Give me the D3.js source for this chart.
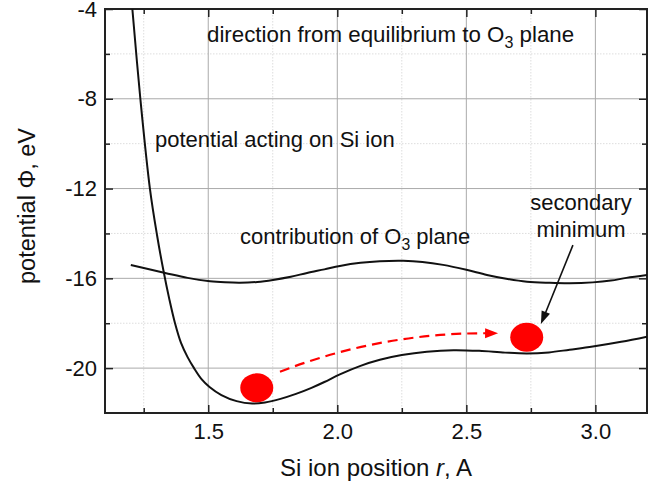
<!DOCTYPE html>
<html>
<head>
<meta charset="utf-8">
<script src="https://cdn.jsdelivr.net/npm/d3@7"></script>
<style>
  body { margin: 0; background: #fff; }
  text { font-family: "Liberation Sans", Arial, sans-serif; fill: #111; }
</style>
</head>
<body>
<svg id="chart" width="662" height="484"></svg>
<script>
// Axis ticks
const xTicks = [1.5, 2.0, 2.5, 3.0];
const xMinor = [1.25, 1.75, 2.25, 2.75];
const yTicks = [-4, -8, -12, -16, -20];
const yMinor = [-6, -10, -14, -18];

// Potential acting on the Si ion, eV, vs. position r, A
const potR = [1.206, 1.237, 1.274, 1.3015, 1.326, 1.350, 1.371, 1.3945, 1.42, 1.445, 1.474, 1.505, 1.551, 1.61, 1.67, 1.72, 1.78, 1.84, 1.9, 1.95, 2.01, 2.09, 2.165, 2.25, 2.347, 2.45, 2.55, 2.65, 2.735, 2.82, 2.9, 2.99, 3.1, 3.2];
const potV = [-4.0, -8.0, -12.0, -14.07, -15.63, -16.97, -17.99, -18.88, -19.51, -20.0, -20.49, -20.84, -21.2, -21.47, -21.58, -21.53, -21.37, -21.15, -20.88, -20.62, -20.28, -19.9, -19.63, -19.42, -19.27, -19.2, -19.23, -19.31, -19.35, -19.3, -19.18, -19.04, -18.83, -18.6];

// Contribution of the O3 plane
const planeR = [1.2, 1.333, 1.42, 1.507, 1.565, 1.623, 1.69, 1.751, 1.82, 1.883, 1.95, 2.01, 2.09, 2.165, 2.255, 2.33, 2.41, 2.5, 2.58, 2.66, 2.735, 2.82, 2.9, 2.99, 3.06, 3.12, 3.2];
const planeV = [-15.41, -15.76, -15.98, -16.13, -16.18, -16.2, -16.16, -16.07, -15.93, -15.76, -15.6, -15.45, -15.31, -15.24, -15.22, -15.27, -15.4, -15.62, -15.85, -16.03, -16.15, -16.2, -16.22, -16.18, -16.1, -15.98, -15.85];

// Ion positions (equilibrium and secondary minimum)
const ionR = [1.688, 2.734];
const ionV = [-20.88, -18.63];

// Hop path: start, bend, end
const hopR = [1.778, 2.169, 2.623];
const hopV = [-20.16, -18.42, -18.45];

// Pointer to the secondary minimum: tail, tip
const pointerR = [2.913, 2.789];
const pointerV = [-14.52, -18.04];

const svg = d3.select("#chart");
const pL = 105, pR = 647, pT = 9, pB = 413;

const x = d3.scaleLinear().domain([1.1, 3.2]).range([pL, pR]);
const y = d3.scaleLinear().domain([-22, -4]).range([pB, pT]);

// Grid
const grid = svg.append("g");
xMinor.forEach(v => grid.append("line")
  .attr("x1", x(v)).attr("x2", x(v)).attr("y1", pT).attr("y2", pB)
  .attr("stroke", "#ddd").attr("stroke-width", 1).attr("stroke-dasharray", "1.5,1.5"));
yMinor.forEach(v => grid.append("line")
  .attr("x1", pL).attr("x2", pR).attr("y1", y(v)).attr("y2", y(v))
  .attr("stroke", "#ddd").attr("stroke-width", 1).attr("stroke-dasharray", "1.5,1.5"));
xTicks.forEach(v => grid.append("line")
  .attr("x1", x(v)).attr("x2", x(v)).attr("y1", pT).attr("y2", pB)
  .attr("stroke", "#aaa").attr("stroke-width", 1));
yTicks.filter(v => v > -22 && v < -4).forEach(v => grid.append("line")
  .attr("x1", pL).attr("x2", pR).attr("y1", y(v)).attr("y2", y(v))
  .attr("stroke", "#aaa").attr("stroke-width", 1));

// Axes with inward ticks
function styleAxis(g) {
  g.select(".domain").remove();
  g.selectAll(".tick line").attr("stroke", "#222").attr("stroke-width", 1.5);
  g.selectAll(".tick text").attr("font-size", 22).attr("fill", "#111")
    .attr("font-family", "Liberation Sans, Arial, sans-serif");
}
const fmtX = d3.format(".1f");
const fmtY = d => String(d);
svg.append("g").attr("transform", `translate(0,${pB})`)
  .call(d3.axisBottom(x).tickValues(xTicks).tickFormat(fmtX).tickSizeInner(-8).tickSizeOuter(0).tickPadding(10))
  .call(styleAxis);
svg.append("g").attr("transform", `translate(0,${pB})`)
  .call(d3.axisBottom(x).tickValues(xMinor).tickFormat("").tickSizeInner(-5).tickSizeOuter(0))
  .call(styleAxis);
svg.append("g").attr("transform", `translate(0,${pT})`)
  .call(d3.axisTop(x).tickValues(xTicks).tickFormat("").tickSizeInner(-8).tickSizeOuter(0))
  .call(styleAxis);
svg.append("g").attr("transform", `translate(0,${pT})`)
  .call(d3.axisTop(x).tickValues(xMinor).tickFormat("").tickSizeInner(-5).tickSizeOuter(0))
  .call(styleAxis);
svg.append("g").attr("transform", `translate(${pL},0)`)
  .call(d3.axisLeft(y).tickValues(yTicks).tickFormat(fmtY).tickSizeInner(-8).tickSizeOuter(0).tickPadding(8))
  .call(styleAxis);
svg.append("g").attr("transform", `translate(${pL},0)`)
  .call(d3.axisLeft(y).tickValues(yMinor).tickFormat("").tickSizeInner(-5).tickSizeOuter(0))
  .call(styleAxis);
svg.append("g").attr("transform", `translate(${pR},0)`)
  .call(d3.axisRight(y).tickValues(yTicks).tickFormat("").tickSizeInner(-8).tickSizeOuter(0))
  .call(styleAxis);
svg.append("g").attr("transform", `translate(${pR},0)`)
  .call(d3.axisRight(y).tickValues(yMinor).tickFormat("").tickSizeInner(-5).tickSizeOuter(0))
  .call(styleAxis);

// Frame
svg.append("rect").attr("x", pL).attr("y", pT)
  .attr("width", pR - pL).attr("height", pB - pT)
  .attr("fill", "none").attr("stroke", "#222").attr("stroke-width", 2);

// Curves
svg.append("clipPath").attr("id", "plotclip")
  .append("rect").attr("x", pL).attr("y", pT).attr("width", pR - pL).attr("height", pB - pT);
const line = d3.line().x(d => x(d[0])).y(d => y(d[1])).curve(d3.curveCatmullRom.alpha(0.5));
const curves = svg.append("g").attr("clip-path", "url(#plotclip)");
curves.append("path").datum(potR.map((r, i) => [r, potV[i]]))
  .attr("d", line).attr("fill", "none").attr("stroke", "#111").attr("stroke-width", 2);
curves.append("path").datum(planeR.map((r, i) => [r, planeV[i]]))
  .attr("d", line).attr("fill", "none").attr("stroke", "#111").attr("stroke-width", 2);

// Ions
svg.selectAll("ellipse.ion").data(ionR.map((r, i) => [r, ionV[i]])).enter()
  .append("ellipse").attr("class", "ion")
  .attr("cx", d => x(d[0])).attr("cy", d => y(d[1]))
  .attr("rx", 16.5).attr("ry", 14.5).attr("fill", "#f00");

// Dashed hop path with arrowhead
const p0 = [x(hopR[0]), y(hopV[0])], pc = [x(hopR[1]), y(hopV[1])], p2 = [x(hopR[2]), y(hopV[2])];
const ang = Math.atan2(p2[1] - pc[1], p2[0] - pc[0]);
const headLen = 13, headW = 5;
const shaftEnd = [p2[0] - Math.cos(ang) * headLen * 0.8, p2[1] - Math.sin(ang) * headLen * 0.8];
const hop = d3.path();
hop.moveTo(p0[0], p0[1]);
hop.quadraticCurveTo(pc[0], pc[1], shaftEnd[0], shaftEnd[1]);
svg.append("path").attr("d", hop.toString()).attr("fill", "none")
  .attr("stroke", "#f00").attr("stroke-width", 2.2).attr("stroke-dasharray", "10,6");
function head(tip, a, len, w, color) {
  const bx = tip[0] - Math.cos(a) * len, by = tip[1] - Math.sin(a) * len;
  const nx = -Math.sin(a) * w, ny = Math.cos(a) * w;
  svg.append("polygon")
    .attr("points", `${tip[0]},${tip[1]} ${bx + nx},${by + ny} ${bx - nx},${by - ny}`)
    .attr("fill", color);
}
head(p2, ang, headLen, headW, "#f00");

// Pointer arrow
const t0 = [x(pointerR[0]), y(pointerV[0])], t1 = [x(pointerR[1]), y(pointerV[1])];
const pa = Math.atan2(t1[1] - t0[1], t1[0] - t0[0]);
svg.append("line").attr("x1", t0[0]).attr("y1", t0[1])
  .attr("x2", t1[0] - Math.cos(pa) * 8).attr("y2", t1[1] - Math.sin(pa) * 8)
  .attr("stroke", "#111").attr("stroke-width", 1.6);
head(t1, pa, 13, 4.5, "#111");

// Annotations (subscripts drop below the baseline and return)
function label(tx, ty, parts, size) {
  const t = svg.append("text").attr("x", tx).attr("y", ty).attr("font-size", size);
  let shift = 0;
  parts.forEach(p => {
    const s = t.append("tspan").text(p.text);
    if (p.sub) {
      s.attr("font-size", size * 0.72).attr("dy", 6 - shift);
      shift = 6;
    } else {
      s.attr("dy", -shift);
      shift = 0;
    }
  });
  return t;
}
label(207, 42, [{text: "direction from equilibrium to O"}, {text: "3", sub: true}, {text: " plane"}], 22.3);
label(155, 147, [{text: "potential acting on Si ion"}], 22);
label(240, 244, [{text: "contribution of O"}, {text: "3", sub: true}, {text: " plane"}], 22);
svg.append("text").attr("x", 581).attr("y", 210).attr("text-anchor", "middle").attr("font-size", 22).text("secondary");
svg.append("text").attr("x", 581).attr("y", 237).attr("text-anchor", "middle").attr("font-size", 22).text("minimum");

// Axis titles
const xt = svg.append("text").attr("x", 376).attr("y", 476).attr("text-anchor", "middle").attr("font-size", 24);
xt.append("tspan").text("Si ion position ");
xt.append("tspan").attr("font-style", "italic").text("r");
xt.append("tspan").text(", A");
svg.append("text").attr("transform", "translate(35,206) rotate(-90)")
  .attr("text-anchor", "middle").attr("font-size", 23.5).text("potential Φ, eV");
</script>
</body>
</html>
